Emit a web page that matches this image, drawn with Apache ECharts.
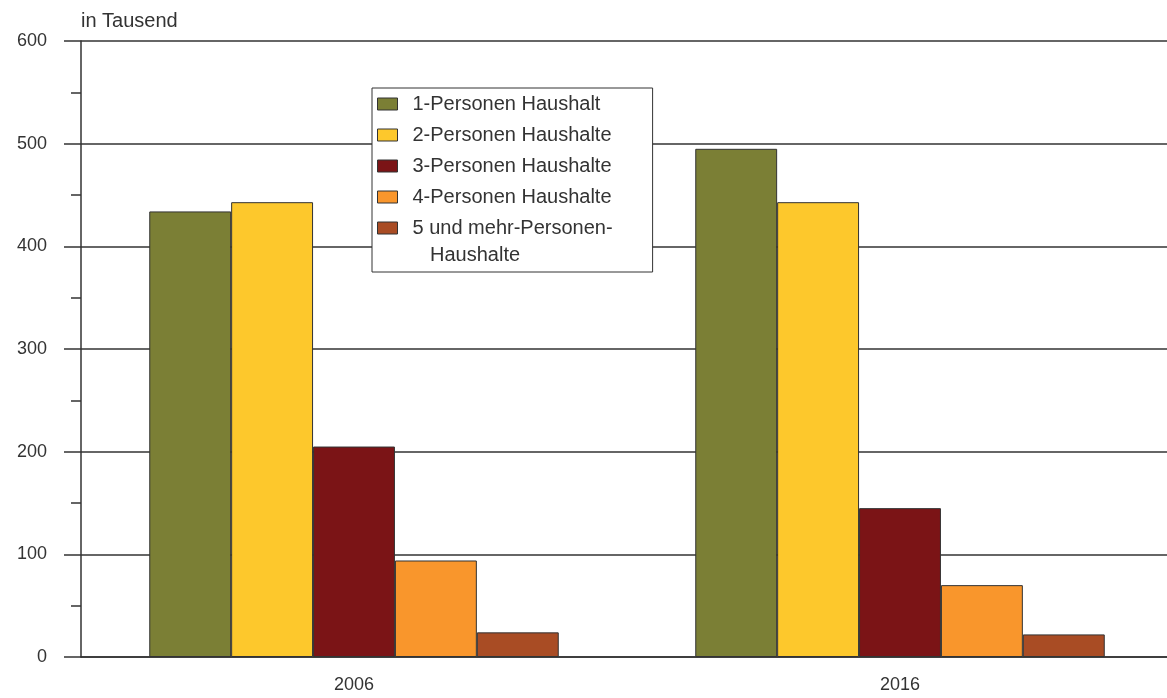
<!DOCTYPE html>
<html>
<head>
<meta charset="utf-8">
<script src="https://cdn.jsdelivr.net/npm/echarts@6/dist/echarts.min.js"></script>
<style>
html,body{margin:0;padding:0;background:#fff;overflow:hidden;}
#main{width:1173px;height:698px;}
</style>
</head>
<body>
<div id="main"></div>
<script>
const categories = ['2006', '2016'];
const seriesNames = ['1-Personen Haushalt', '2-Personen Haushalte', '3-Personen Haushalte', '4-Personen Haushalte', '5 und mehr-Personen-Haushalte'];
const hh1 = [434, 495];
const hh2 = [443, 443];
const hh3 = [205, 145];
const hh4 = [94, 70];
const hh5 = [24, 22];
const yTicks = [0, 100, 200, 300, 400, 500, 600];
const colors = ['#7b7f35', '#fdc82c', '#7b1416', '#f9962c', '#a94c24'];

const values = [hh1, hh2, hh3, hh4, hh5];
const chart = echarts.init(document.getElementById('main'));
const font = '"Liberation Sans", Arial, sans-serif';
chart.setOption({
  animation: false,
  textStyle: { fontFamily: font },
  grid: { left: 81, top: 41, bottom: 41, right: 0, containLabel: false },
  legend: {
    orient: 'vertical',
    left: 372, top: 88,
    backgroundColor: '#fff',
    borderColor: '#333', borderWidth: 1,
    padding: [6, 40, 34, 5],
    icon: 'rect',
    itemWidth: 20, itemHeight: 12, itemGap: 11,
    textStyle: { fontSize: 20, lineHeight: 20, color: '#333', fontFamily: font, padding: [0, 0, 0, 10] },
    formatter: function (name) {
      return name === '5 und mehr-Personen-Haushalte' ? '5 und mehr-Personen-' : name;
    },
    data: seriesNames.map(n => ({ name: n, itemStyle: { borderColor: '#333', borderWidth: 1 } }))
  },
  graphic: [{
    type: 'text', left: 430, top: 245, z: 100,
    style: { text: 'Haushalte', fontSize: 20, fontFamily: font, fill: '#333' }
  }],
  xAxis: {
    type: 'category', data: categories,
    axisLine: { show: true, lineStyle: { color: '#333', width: 1.5 } },
    axisTick: { show: false },
    axisLabel: { fontSize: 18, color: '#333', margin: 19 }
  },
  yAxis: {
    type: 'value', min: 0, max: 600, interval: 100,
    name: 'in Tausend', nameLocation: 'end', nameGap: 10,
    nameTextStyle: { fontSize: 20, color: '#333', align: 'left' },
    axisLine: { show: true, lineStyle: { color: '#333', width: 1.5 } },
    axisTick: { show: true, length: 17, lineStyle: { color: '#333', width: 1.5 } },
    minorTick: { show: true, splitNumber: 2, length: 10, lineStyle: { color: '#333', width: 1.5 } },
    splitLine: { show: true, lineStyle: { color: '#333', width: 1.5 } },
    axisLabel: { fontSize: 18, color: '#333', margin: 34,
      formatter: v => yTicks.includes(v) ? String(v) : '' }
  },
  series: seriesNames.map((n, i) => ({
    name: n, type: 'bar', data: values[i],
    barGap: '0%', barCategoryGap: '25%',
    itemStyle: { color: colors[i], borderColor: '#333', borderWidth: 1 }
  }))
});
</script>
</body>
</html>
